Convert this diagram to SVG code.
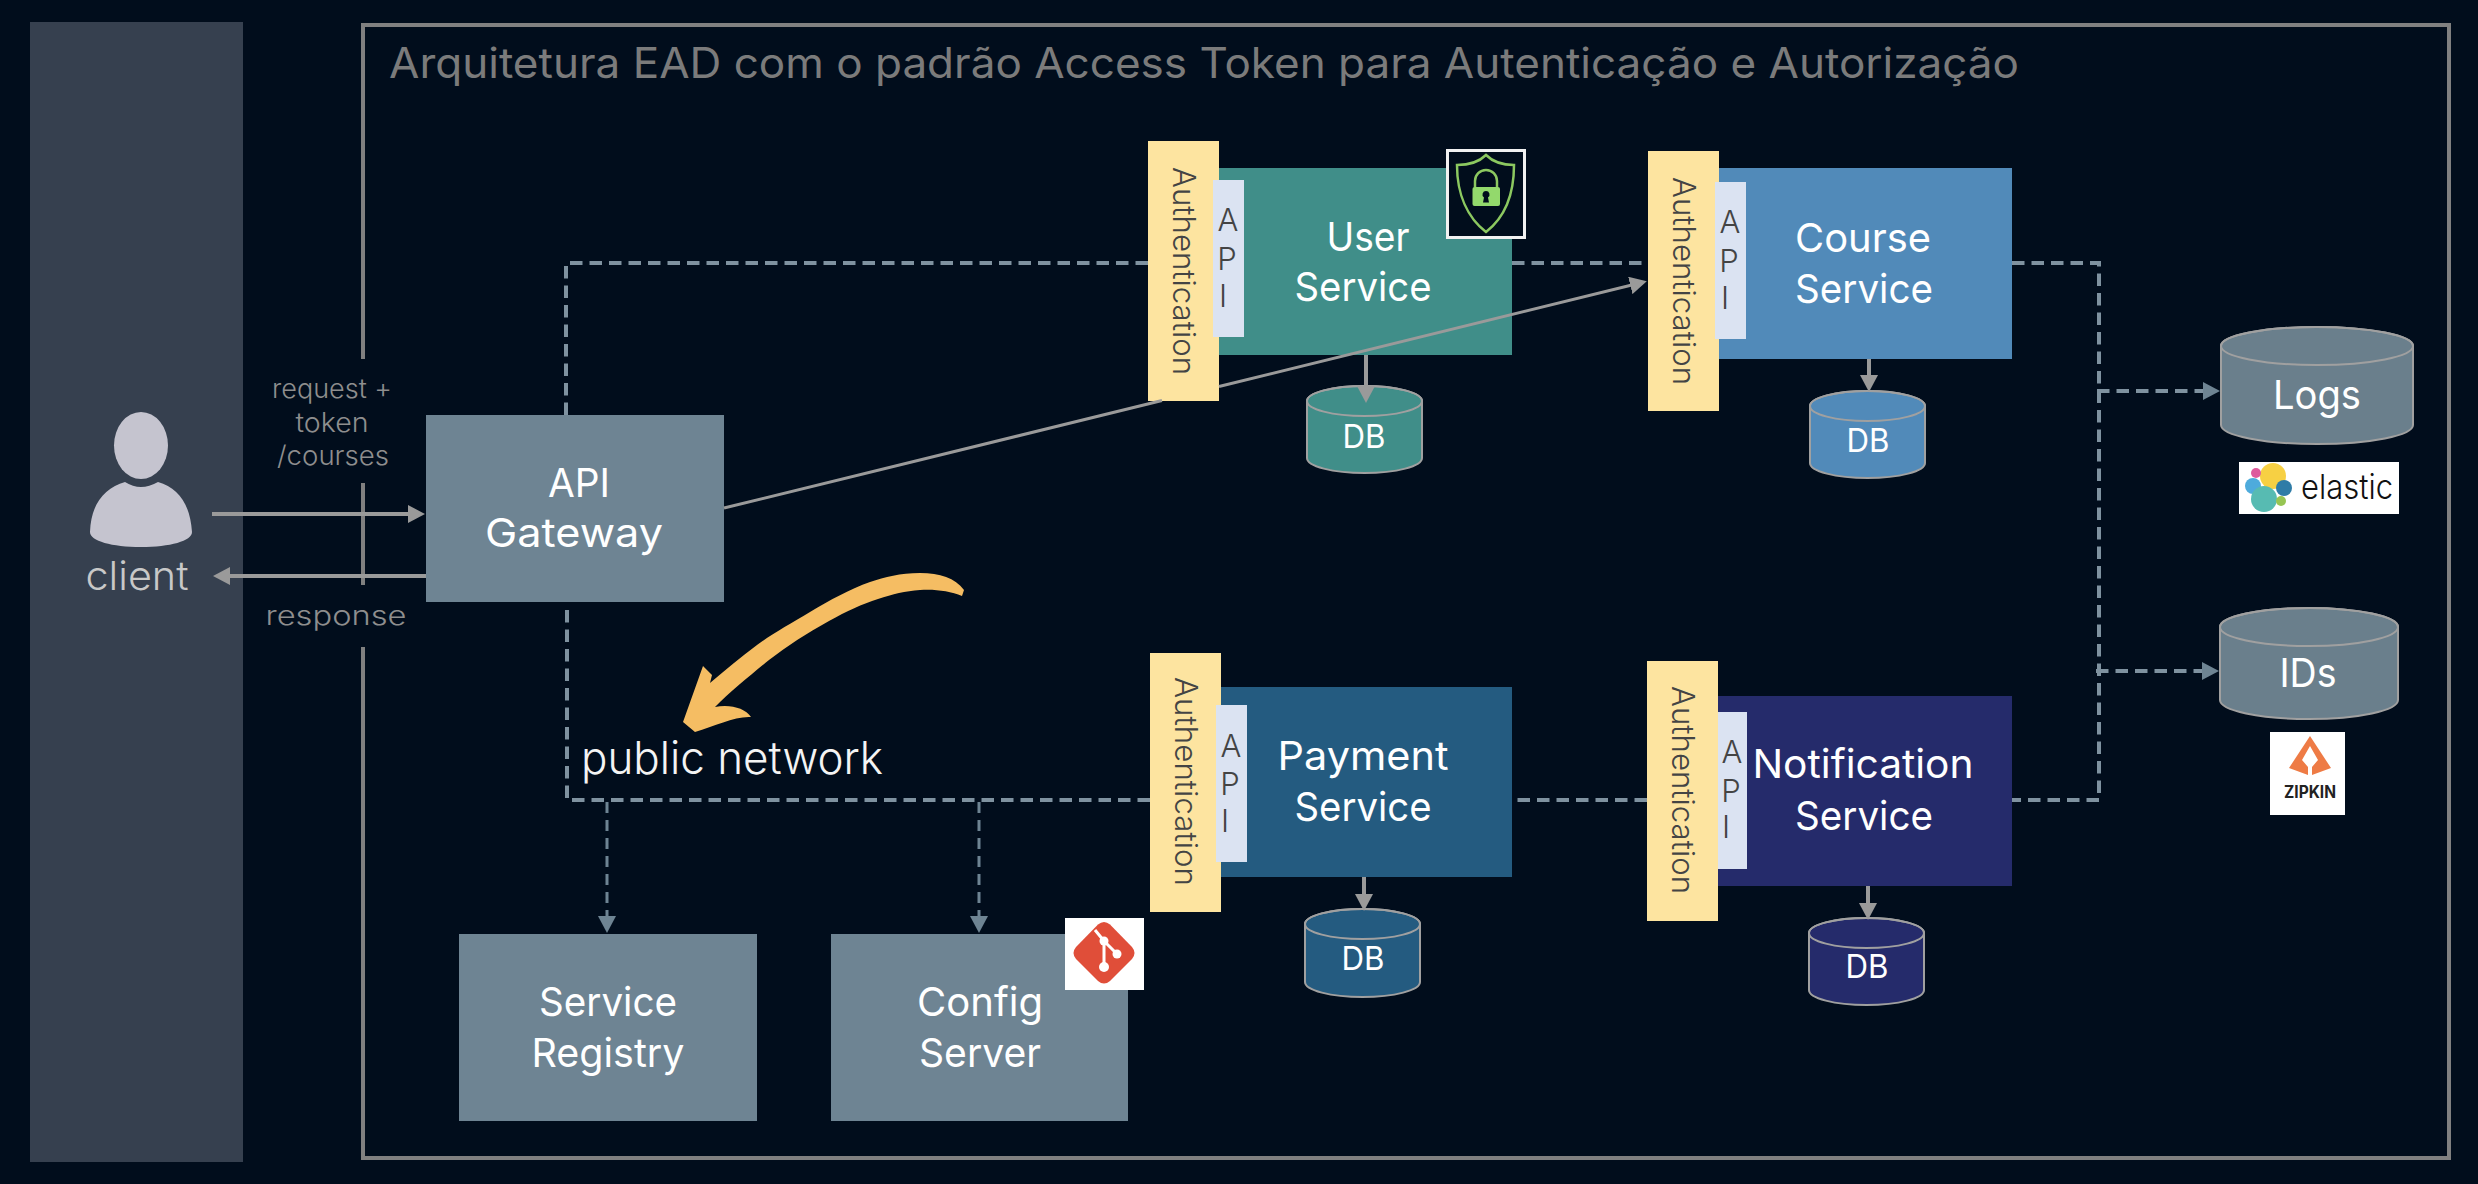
<svg xmlns="http://www.w3.org/2000/svg" width="2478" height="1184" viewBox="0 0 2478 1184">
<defs>
<style>
text{font-family:"Inter","Liberation Sans",sans-serif;font-weight:300;}
.w{fill:#fff;font-size:40px;text-anchor:middle;font-weight:400;}
.db{fill:#fff;font-size:33px;text-anchor:middle;font-weight:400;}
.lbl{fill:#8e8e8e;font-size:27px;text-anchor:middle;}
.auth{fill:#fde4a0;}
.api{fill:#dbe3f2;}
.at{fill:#444;font-size:31px;}
.al{fill:#444;font-size:31px;text-anchor:middle;}
.slate{fill:#6e8493;}
.cyl{stroke:#a0a0a0;stroke-width:2;}
.cl{fill:none;stroke:#a0a0a0;stroke-width:2;}
.solid{fill:none;stroke:#9a9a9a;stroke-width:4;}
.dash{fill:none;stroke:#7f92a0;stroke-width:4;stroke-dasharray:12.5 7;}
.dash2{fill:none;stroke:#6e8493;stroke-width:3;stroke-dasharray:11 7;}
.title{fill:#7b7b7b;font-size:42px;font-weight:400;}
</style>
<marker id="hg" markerUnits="userSpaceOnUse" markerWidth="18" markerHeight="18" refX="10" refY="9" orient="auto"><path d="M0 0L17 9L0 18Z" fill="#9a9a9a"/></marker>
<marker id="hs" markerUnits="userSpaceOnUse" markerWidth="18" markerHeight="18" refX="10" refY="9" orient="auto"><path d="M0 0L17 9L0 18Z" fill="#6e8493"/></marker>
</defs>
<rect width="2478" height="1184" fill="#010d1c"/>
<rect id="client-lane" x="30" y="22" width="213" height="1140" fill="#36404f"/>
<path id="frame" d="M363 359V25H2449V1158H363V647M363 585V483" fill="none" stroke="#808080" stroke-width="4"/>
<text class="title" x="389" y="78" textLength="1630" lengthAdjust="spacingAndGlyphs">Arquitetura EAD com o padrão Access Token para Autenticação e Autorização</text>

<g id="client">
<ellipse cx="141" cy="445.5" rx="27" ry="33.5" fill="#c5c4cf"/>
<path d="M125 482Q133 487 141 487Q149 487 158 482C178 488 190 503 192 532C192 541 170 547 141 547C112 547 90 541 90 532C91 503 105 488 125 482Z" fill="#c5c4cf"/>
<text x="137" y="590" fill="#c8c8c8" font-size="40" text-anchor="middle" textLength="103" lengthAdjust="spacingAndGlyphs">client</text>
</g>

<g id="labels">
<text class="lbl" x="332" y="398" textLength="120" lengthAdjust="spacingAndGlyphs">request +</text>
<text class="lbl" x="332" y="432" textLength="73" lengthAdjust="spacingAndGlyphs">token</text>
<text class="lbl" x="333" y="465" textLength="112" lengthAdjust="spacingAndGlyphs">/courses</text>
<text class="lbl" x="336" y="625" textLength="141" lengthAdjust="spacingAndGlyphs">response</text>
</g>

<g id="api-gateway">
<rect class="slate" x="426" y="415" width="298" height="187"/>
<text class="w" x="579" y="497" textLength="62" lengthAdjust="spacingAndGlyphs">API</text>
<text class="w" x="574" y="547" textLength="178" lengthAdjust="spacingAndGlyphs">Gateway</text>
</g>

<g id="user-service">
<rect x="1219" y="168" width="293" height="187" fill="#408e89"/>
<rect class="auth" x="1148" y="141" width="71" height="260"/>
<text class="at" transform="translate(1173 167) rotate(90)" textLength="208" lengthAdjust="spacingAndGlyphs">Authentication</text>
<rect class="api" x="1213" y="180" width="31" height="157"/>
<text class="al" x="1228" y="231">A</text><text class="al" x="1227" y="270">P</text><text class="al" x="1223" y="307">I</text>
<text class="w" x="1368" y="251" textLength="83" lengthAdjust="spacingAndGlyphs">User</text>
<text class="w" x="1363" y="301" textLength="137" lengthAdjust="spacingAndGlyphs">Service</text>
<rect x="1447.5" y="150.5" width="77" height="87" fill="#010d1c" stroke="#f1f1f1" stroke-width="3"/>
<path d="M1486 155C1479 162 1468 165 1457 165C1457 195 1468 218 1486 232C1504 218 1514 195 1514 165C1503 165 1493 162 1486 155Z" fill="none" stroke="#8cc860" stroke-width="2.5"/>
<path d="M1475 187V181A11 11 0 0 1 1497 181V187" fill="none" stroke="#8cc860" stroke-width="2.5"/>
<rect x="1472.5" y="187" width="27.5" height="19" rx="2" fill="#93d96c"/>
<path d="M1486 191a3.5 3.5 0 0 1 2 6.4l1 5h-6l1-5a3.5 3.5 0 0 1 2-6.4Z" fill="#010d1c"/>
</g>
<g id="user-db">
<path class="cyl" fill="#408e89" d="M1307 401V458A57.500 15 0 0 0 1422 458V401A57.500 15 0 0 0 1307 401Z"/>
<ellipse class="cl" cx="1364.500" cy="401" rx="57.500" ry="15"/>
<text class="db" x="1364" y="448" textLength="43" lengthAdjust="spacingAndGlyphs">DB</text>
</g>

<g id="course-service">
<rect x="1719" y="168" width="293" height="191" fill="#518ab9"/>
<rect class="auth" x="1648" y="151" width="71" height="260"/>
<text class="at" transform="translate(1673 177) rotate(90)" textLength="208" lengthAdjust="spacingAndGlyphs">Authentication</text>
<rect class="api" x="1715" y="182" width="31" height="157"/>
<text class="al" x="1730" y="233">A</text><text class="al" x="1729" y="272">P</text><text class="al" x="1725" y="309">I</text>
<text class="w" x="1863" y="252" textLength="136" lengthAdjust="spacingAndGlyphs">Course</text>
<text class="w" x="1864" y="303" textLength="138" lengthAdjust="spacingAndGlyphs">Service</text>
</g>
<g id="course-db">
<path class="cyl" fill="#518ab9" d="M1810 406V463A57.500 15 0 0 0 1925 463V406A57.500 15 0 0 0 1810 406Z"/>
<ellipse class="cl" cx="1867.500" cy="406" rx="57.500" ry="15"/>
<text class="db" x="1868" y="452" textLength="43" lengthAdjust="spacingAndGlyphs">DB</text>
</g>

<g id="payment-service">
<rect x="1221" y="687" width="291" height="190" fill="#245b80"/>
<rect class="auth" x="1150" y="653" width="71" height="259"/>
<text class="at" transform="translate(1175 677) rotate(90)" textLength="209" lengthAdjust="spacingAndGlyphs">Authentication</text>
<rect class="api" x="1216" y="705" width="31" height="157"/>
<text class="al" x="1231" y="757">A</text><text class="al" x="1230" y="795">P</text><text class="al" x="1225" y="832">I</text>
<text class="w" x="1363" y="770" textLength="171" lengthAdjust="spacingAndGlyphs">Payment</text>
<text class="w" x="1363" y="821" textLength="137" lengthAdjust="spacingAndGlyphs">Service</text>
</g>
<g id="payment-db">
<path class="cyl" fill="#245b80" d="M1305 924V982A57.500 15 0 0 0 1420 982V924A57.500 15 0 0 0 1305 924Z"/>
<ellipse class="cl" cx="1362.500" cy="924" rx="57.500" ry="15"/>
<text class="db" x="1363" y="970" textLength="43" lengthAdjust="spacingAndGlyphs">DB</text>
</g>

<g id="notification-service">
<rect x="1718" y="696" width="294" height="190" fill="#252b6b"/>
<rect class="api" x="1718" y="712" width="29" height="157"/>
<rect class="auth" x="1647" y="661" width="71" height="260"/>
<text class="at" transform="translate(1672 686) rotate(90)" textLength="208" lengthAdjust="spacingAndGlyphs">Authentication</text>
<text class="al" x="1732" y="763">A</text><text class="al" x="1731" y="802">P</text><text class="al" x="1726" y="838">I</text>
<text class="w" x="1863" y="778" textLength="221" lengthAdjust="spacingAndGlyphs">Notification</text>
<text class="w" x="1864" y="830" textLength="138" lengthAdjust="spacingAndGlyphs">Service</text>
</g>
<g id="notification-db">
<path class="cyl" fill="#252b6b" d="M1809 933V990A57.500 15 0 0 0 1924 990V933A57.500 15 0 0 0 1809 933Z"/>
<ellipse class="cl" cx="1866.500" cy="933" rx="57.500" ry="15"/>
<text class="db" x="1867" y="978" textLength="43" lengthAdjust="spacingAndGlyphs">DB</text>
</g>

<g id="logs">
<path class="cyl" fill="#6a7f8c" d="M2221 346V425A96 19 0 0 0 2413 425V346A96 19 0 0 0 2221 346Z"/>
<ellipse class="cl" cx="2317" cy="346" rx="96" ry="19"/>
<text class="w" x="2317" y="409" font-size="42" textLength="88" lengthAdjust="spacingAndGlyphs">Logs</text>
<rect x="2239" y="462" width="160" height="52" fill="#fff"/>
<circle cx="2273" cy="476" r="13" fill="#f7d043"/>
<circle cx="2256" cy="473" r="5" fill="#de5a9d"/>
<circle cx="2253" cy="486" r="8" fill="#4eabdc"/>
<circle cx="2264" cy="499" r="13" fill="#57bbb2"/>
<circle cx="2284" cy="488" r="8" fill="#2f7ca7"/>
<circle cx="2281" cy="501" r="5" fill="#97c553"/>
<text x="2301" y="499" fill="#111" font-size="34" textLength="92" lengthAdjust="spacingAndGlyphs">elastic</text>
</g>

<g id="ids">
<path class="cyl" fill="#6a7f8c" d="M2220 627V700A89 19 0 0 0 2398 700V627A89 19 0 0 0 2220 627Z"/>
<ellipse class="cl" cx="2309" cy="627" rx="89" ry="19"/>
<text class="w" x="2308" y="687" font-size="42" textLength="57" lengthAdjust="spacingAndGlyphs">IDs</text>
<rect x="2270" y="732" width="75" height="83" fill="#fff"/>
<path d="M2310 736L2331 768L2312 775V767L2318 760L2310 746L2302 760L2308 767V775L2289 768Z" fill="#ee7b45"/>
<text x="2310" y="798" fill="#222" font-size="17" style="font-weight:700" text-anchor="middle" textLength="52" lengthAdjust="spacingAndGlyphs">ZIPKIN</text>
</g>

<g id="service-registry">
<rect class="slate" x="459" y="934" width="298" height="187"/>
<text class="w" x="608" y="1016" textLength="138" lengthAdjust="spacingAndGlyphs">Service</text>
<text class="w" x="608" y="1067" textLength="153" lengthAdjust="spacingAndGlyphs">Registry</text>
</g>

<g id="config-server">
<rect class="slate" x="831" y="934" width="297" height="187"/>
<text class="w" x="980" y="1016" textLength="126" lengthAdjust="spacingAndGlyphs">Config</text>
<text class="w" x="980" y="1067" textLength="122" lengthAdjust="spacingAndGlyphs">Server</text>
<rect x="1065" y="918" width="79" height="72" fill="#fff"/>
<path d="M1098 924.500Q1104 919.500 1110 924.500L1132 947Q1137 953 1132 959L1110 981Q1104 986 1098 981L1076 959Q1071 953 1076 947Z" fill="#e04e39"/>
<path d="M1095 930L1104 941L1117 954M1104 941V967" fill="none" stroke="#fff" stroke-width="3"/>
<circle cx="1104" cy="941" r="4.500" fill="#fff"/><circle cx="1117" cy="954" r="4.500" fill="#fff"/><circle cx="1104" cy="967" r="5" fill="#fff"/>
</g>

<g id="public-network">
<path d="M964 590C955 578 940 573 920 573C900 573 885 577 870 582C850 589 830 600 810 612C790 624 772 634 757 645C740 658 725 670 710 683L712 675L703 666L683 722L695 732C715 726 735 716 751 717C745 708 730 704 715 707C730 692 752 674 769 660C787 646 807 633 829 621C847 611 862 604 878 599C893 594 905 591 920 590C935 589 950 591 962 596Z" fill="#f5bd63"/>
<text x="581" y="774" fill="#f4f4f4" font-size="45" textLength="302" lengthAdjust="spacingAndGlyphs">public network</text>
</g>

<g id="connectors">
<path class="dash" d="M566 415V263H1148M1512 263H1648M2012 263H2099V800H2012M1647 800H1512M1150 800H567V608"/>
<path class="dash" d="M2097 391H2213" marker-end="url(#hs)"/>
<path class="dash" d="M2096 671H2212" marker-end="url(#hs)"/>
<path class="dash2" d="M607 802V926" marker-end="url(#hs)"/>
<path class="dash2" d="M979 802V926" marker-end="url(#hs)"/>
<path class="solid" d="M212 514H418" marker-end="url(#hg)"/>
<path class="solid" d="M426 576H220" marker-end="url(#hg)"/>
<path fill="none" stroke="#9a9a9a" stroke-width="3" d="M724 508L1162 400.500M1219 386.500L1640 283" marker-end="url(#hg)"/>
<path class="solid" d="M1366 355V396" marker-end="url(#hg)"/>
<path class="solid" d="M1869 359V385" marker-end="url(#hg)"/>
<path class="solid" d="M1364 877V904" marker-end="url(#hg)"/>
<path class="solid" d="M1868 886V913" marker-end="url(#hg)"/>
</g>
</svg>
